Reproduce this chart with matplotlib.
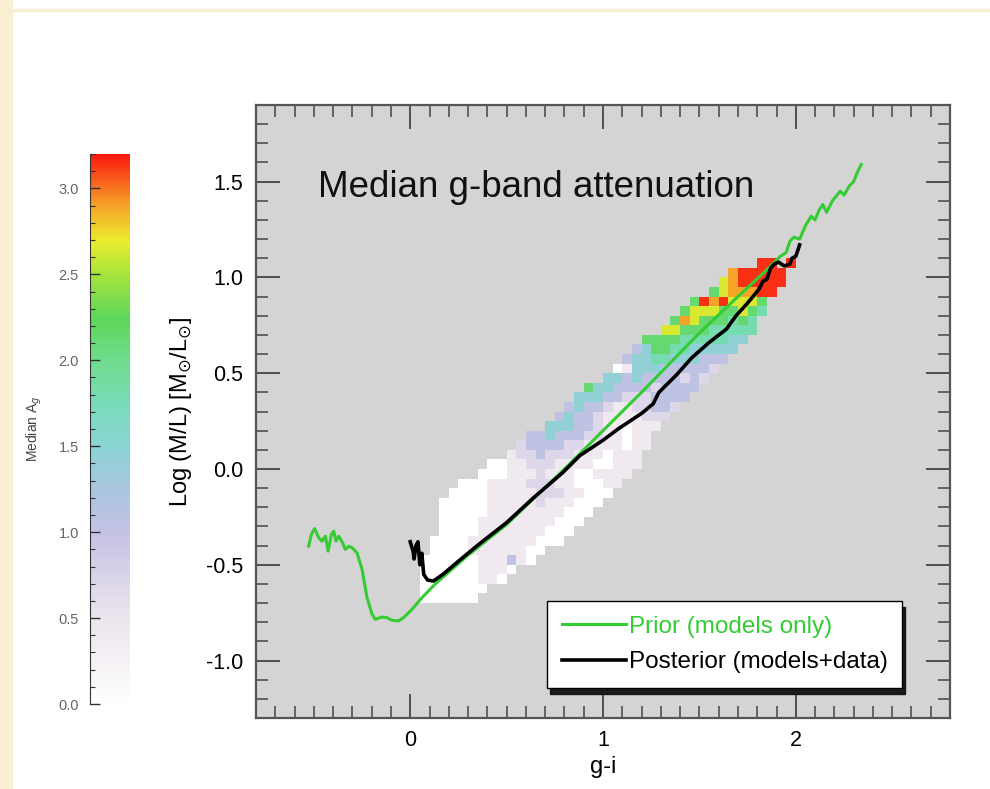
import numpy as np
import matplotlib
matplotlib.use("Agg")
import matplotlib.pyplot as plt
from matplotlib.colors import LinearSegmentedColormap, Normalize
from matplotlib.patches import Rectangle
from matplotlib.ticker import MultipleLocator

plt.rcParams['font.family'] = ['Liberation Sans', 'DejaVu Sans']
plt.rcParams['axes.unicode_minus'] = False

# prior track (models only)
prior_gi = [-0.527, -0.513, -0.496, -0.475, -0.458, -0.440, -0.426, -0.409, -0.397, -0.385,
            -0.371, -0.351, -0.337, -0.319, -0.302, -0.276, -0.250, -0.224, -0.198, -0.181,
            -0.147, -0.121, -0.095, -0.060, -0.035, 0.009, 0.061, 0.13, 0.30, 0.50,
            0.79, 1.07, 1.20, 1.50, 1.70, 1.85, 1.92, 1.95, 1.97, 1.99,
            2.02, 2.05, 2.08, 2.10, 2.12, 2.14, 2.16, 2.19, 2.23, 2.25,
            2.28, 2.30, 2.32, 2.34]
prior_ml = [-0.403, -0.342, -0.311, -0.359, -0.377, -0.351, -0.429, -0.342, -0.325, -0.377,
            -0.351, -0.385, -0.420, -0.403, -0.411, -0.438, -0.524, -0.672, -0.759, -0.785,
            -0.773, -0.776, -0.790, -0.793, -0.776, -0.733, -0.672, -0.60, -0.45, -0.29,
            -0.01, 0.27, 0.40, 0.71, 0.90, 1.04, 1.11, 1.13, 1.19, 1.21,
            1.20, 1.27, 1.32, 1.30, 1.35, 1.38, 1.34, 1.40, 1.45, 1.43,
            1.48, 1.50, 1.55, 1.59]

# posterior track (models+data)
post_gi = [0.00, 0.015, 0.02, 0.03, 0.04, 0.05, 0.06, 0.07, 0.09, 0.12,
           0.17, 0.24, 0.36, 0.50, 0.64, 0.79, 0.88, 1.00, 1.08, 1.20,
           1.26, 1.29, 1.38, 1.46, 1.55, 1.64, 1.69, 1.74, 1.77, 1.81,
           1.83, 1.85, 1.87, 1.89, 1.91, 1.94, 1.97, 1.98, 2.00, 2.02]
post_ml = [-0.38, -0.43, -0.47, -0.40, -0.38, -0.50, -0.44, -0.55, -0.58, -0.585,
           -0.55, -0.49, -0.39, -0.28, -0.15, -0.02, 0.07, 0.15, 0.21, 0.29,
           0.34, 0.40, 0.49, 0.58, 0.66, 0.73, 0.80, 0.855, 0.89, 0.94,
           0.98, 0.99, 1.05, 1.07, 1.08, 1.06, 1.07, 1.10, 1.11, 1.17]

# median A_g map: 0.05 x 0.05 cells, one digit per cell ('.' = no data)
cell = 0.05
level_values = [0.0, 0.4, 0.7, 1.05, 1.45, 1.8, 2.15, 2.65, 2.9, 3.15]
map_rows = [
    (1.05, 36, "99.9"),
    (1.00, 33, "899999"),
    (0.95, 32, "7899999"),
    (0.90, 31, "6788899"),
    (0.85, 29, "69897776"),
    (0.80, 28, "677766765"),
    (0.75, 27, "687666565"),
    (0.70, 26, "7766655555"),
    (0.65, 24, "66665555544"),
    (0.60, 23, "34665544444"),
    (0.55, 22, "34455444333"),
    (0.50, 21, "01444333332"),
    (0.45, 20, "44343333232"),
    (0.40, 18, "644333323333"),
    (0.35, 17, "444332223333"),
    (0.30, 16, "343321122332"),
    (0.25, 15, "343321111222"),
    (0.20, 14, "444332110111"),
    (0.15, 12, "3343332211011"),
    (0.10, 11, "23333221111011"),
    (0.05, 10, "12232221110111"),
    (0.00, 8, "0011222111100111"),
    (-0.05, 7, "0001112111001111"),
    (-0.10, 5, "00011112221100011"),
    (-0.15, 4, "00001111122211000"),
    (-0.20, 3, "00000111112111000"),
    (-0.25, 3, "0000011111111000"),
    (-0.30, 3, "000011111111000"),
    (-0.35, 3, "00001111111000"),
    (-0.40, 2, "00001111111000"),
    (-0.45, 2, "000011111100"),
    (-0.50, 1, "000000111310"),
    (-0.55, 1, "0000001110"),
    (-0.60, 1, "000000110"),
    (-0.65, 1, "0000000"),
    (-0.70, 1, "000000"),
]

# colour table of the A_g scale
scale_vals = [0.0, 0.5, 1.0, 1.25, 1.5, 1.75, 2.0, 2.25, 2.5, 2.7, 2.9, 3.2]
scale_cols = ['#ffffff', '#ece4ec', '#c4c2e4', '#a9c6de', '#8ad4d4', '#78dcb9',
              '#6edc8c', '#5fd75a', '#a5e43c', '#ebeb2d', '#f6a528', '#fa190f']

a_max = 3.2
cmap = LinearSegmentedColormap.from_list(
    'atten', list(zip(np.array(scale_vals) / a_max, scale_cols)))
cmap.set_bad((0, 0, 0, 0))

# build the grid
y_lo = min(r[0] for r in map_rows)
n_rows = len(map_rows)
n_cols = 40
grid = np.full((n_rows, n_cols), np.nan)
for y0, c0, codes in map_rows:
    ri = int(round((y0 - y_lo) / cell))
    for k, ch in enumerate(codes):
        if ch != '.':
            grid[ri, c0 + k] = level_values[int(ch)]
gi_edges = np.arange(n_cols + 1) * cell
ml_edges = y_lo + np.arange(n_rows + 1) * cell

fig = plt.figure(figsize=(9.9, 7.89), dpi=100)

# page decoration
fig.patches.append(Rectangle((0, 0), 12 / 990, 1, transform=fig.transFigure,
                             color='#f8eed2', zorder=0))
fig.patches.append(Rectangle((12 / 990, 1 - 11 / 789), 1, 2 / 789,
                             transform=fig.transFigure, color='#f8eed2', zorder=0))

ax = fig.add_axes([0.2586, 0.0900, 0.701, 0.7769])
ax.set_facecolor('#d4d4d4')
mesh = ax.pcolormesh(gi_edges, ml_edges, np.ma.masked_invalid(grid), cmap=cmap,
                     norm=Normalize(0, a_max), zorder=1)

ax.plot(prior_gi, prior_ml, color='#33cc33', lw=2.2, label='Prior (models only)', zorder=3)
ax.plot(post_gi, post_ml, color='black', lw=2.6, label='Posterior (models+data)', zorder=4)

ax.set_xlim(-0.8, 2.8)
ax.set_ylim(-1.3, 1.9)
ax.xaxis.set_major_locator(MultipleLocator(1))
ax.xaxis.set_minor_locator(MultipleLocator(0.1))
ax.yaxis.set_major_locator(MultipleLocator(0.5))
ax.yaxis.set_minor_locator(MultipleLocator(0.1))
ax.tick_params(which='both', direction='in', top=True, right=True, color='#444')
ax.tick_params(which='major', length=17, width=1.3, labelsize=15.5, pad=9)
ax.tick_params(which='minor', length=8.5, width=1.1)
for s in ax.spines.values():
    s.set_color('#555555')
    s.set_linewidth(1.6)

ax.set_xlabel('g-i', fontsize=17, labelpad=3)
ax.set_ylabel(r'Log (M/L) [M$_{\odot}$/L$_{\odot}$]', fontsize=17, labelpad=9)

ax.text(0.089, 0.865, 'Median g-band attenuation', transform=ax.transAxes,
        fontsize=26.5, va='center', ha='left', color='#111111')

leg = ax.legend(loc='lower right', bbox_to_anchor=(0.931, 0.049), borderaxespad=0,
                fontsize=17.5, labelcolor='linecolor', fancybox=False,
                edgecolor='black', framealpha=1, handlelength=2.65,
                handletextpad=0.1, borderpad=0.6, labelspacing=0.55,
                shadow={'ox': 2, 'oy': -4, 'color': '#111111', 'alpha': 0.95})
leg.get_frame().set_linewidth(1.0)

# colour bar
cax = fig.add_axes([0.0909, 0.1077, 0.0404, 0.6971])
cb = fig.colorbar(mesh, cax=cax)
cb.outline.set_visible(False)
cax.yaxis.set_ticks_position('left')
cax.yaxis.set_label_position('left')
cb.set_ticks([0.0, 0.5, 1.0, 1.5, 2.0, 2.5, 3.0])
cax.yaxis.set_minor_locator(MultipleLocator(0.1))
cax.tick_params(which='both', direction='in', color='#333333', labelcolor='#666666',
                labelsize=10.5, pad=8)
cax.tick_params(which='major', length=7, width=1)
cax.tick_params(which='minor', length=3.5, width=0.8)
cax.spines['left'].set_visible(True)
cax.spines['left'].set_color('#333333')
cb.set_label(r'Median A$_g$', fontsize=10, color='#444444', labelpad=10)

fig.savefig('out.png', dpi=100)
